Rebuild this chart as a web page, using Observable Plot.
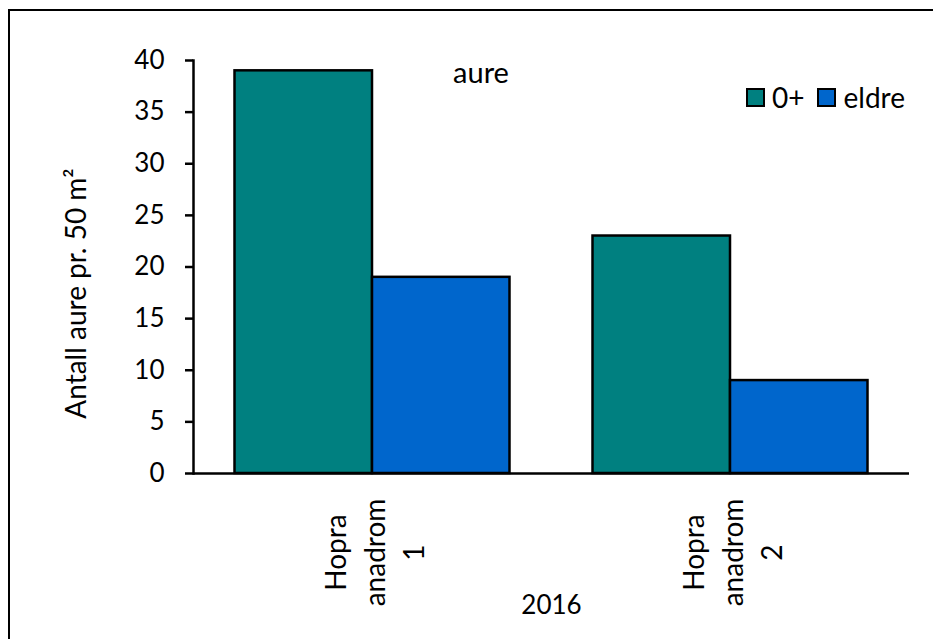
<!DOCTYPE html>
<html>
<head>
<meta charset="utf-8">
<script src="https://cdn.jsdelivr.net/npm/d3@7"></script>
<script src="https://cdn.jsdelivr.net/npm/@observablehq/plot@0.6"></script>
<style>
  body { margin: 0; background: #fff; }
  #chart { position: relative; width: 933px; height: 639px; overflow: hidden; font-family: Lato, "Open Sans", sans-serif; color: #000; }
  #chart .frame-border { position: absolute; left: 8px; top: 9px; width: 1200px; height: 1200px; border-left: 2px solid #000; border-top: 2px solid #000; pointer-events: none; }
  #chart svg { position: absolute; left: 0; top: 0; }
  .legend { position: absolute; left: 746px; top: 80px; display: flex; align-items: center; font-size: 28px; line-height: 34px; }
  .legend .sw { width: 19px; height: 19px; box-sizing: border-box; border: 2.5px solid #000; margin-right: 7px; }
  .legend .item { display: flex; align-items: center; margin-right: 13px; }
  .legend .item:last-child { margin-right: 0; }
</style>
</head>
<body>
<div id="chart"><div class="frame-border"></div></div>
<script>
// Sampling sites (x categories) and counts per age class
const sites = ["Hopra\nanadrom\n1", "Hopra\nanadrom\n2"];
const seriesNames = ["0+", "eldre"];
const youngCounts = [39, 23];   // 0+
const olderCounts = [19, 9];    // eldre
const seriesColors = ["#008080", "#0066CC"];
const yTicks = [0, 5, 10, 15, 20, 25, 30, 35, 40];
const yearLabel = "2016";
const chartTitle = "aure";
const yLabel = "Antall aure pr. 50 m²";

const young = sites.map((site, i) => ({site, series: seriesNames[0], n: youngCounts[i]}));
const older = sites.map((site, i) => ({site, series: seriesNames[1], n: olderCounts[i]}));

// Downward ticks at the category boundaries of the x axis
function boundaryTicks(index, scales, values, dims) {
  const x = scales.x;
  let bw = typeof x.bandwidth === "function" ? x.bandwidth()
         : (scales.scales && scales.scales.x && scales.scales.x.bandwidth);
  const inner = dims.width - dims.marginLeft - dims.marginRight;
  if (!(bw > 0)) bw = inner / sites.length;
  const edges = Array.from(new Set(sites.flatMap(s => [x(s), x(s) + bw]).map(v => Math.round(v * 10) / 10)));
  const y0 = dims.height - dims.marginBottom;
  const g = d3.create("svg:g");
  g.selectAll("line").data(edges).join("line")
    .attr("x1", d => d).attr("x2", d => d)
    .attr("y1", y0).attr("y2", y0 + 8)
    .attr("stroke", "#000").attr("stroke-width", 2.5);
  return g.node();
}

const barStyle = {x: "site", y: "n", stroke: "#000", strokeWidth: 2.5};

const plot = Plot.plot({
  width: 933,
  height: 639,
  marginLeft: 193,
  marginRight: 24,
  marginTop: 60,
  marginBottom: 166,
  style: {fontFamily: "Lato, 'Open Sans', sans-serif", fontSize: "27px", color: "#000", background: "transparent", overflow: "visible"},
  x: {domain: sites, padding: 0, round: false, axis: null},
  y: {domain: [0, 40], axis: null},
  marks: [
    Plot.barY(young, {...barStyle, fill: seriesColors[0], insetLeft: 41.5, insetRight: 179}),
    Plot.barY(older, {...barStyle, fill: seriesColors[1], insetLeft: 179, insetRight: 41.5}),
    Plot.axisY({ticks: yTicks, tickSize: 8, tickPadding: 21, fontSize: 26, strokeWidth: 2.5, label: null}),
    Plot.frame({anchor: "left", strokeWidth: 2.5}),
    Plot.ruleY([0], {strokeWidth: 2.5}),
    Plot.tickX([0], {render: boundaryTicks}),
    Plot.text(sites, {x: d => d, text: d => d, frameAnchor: "bottom", dy: 79, rotate: -90,
      textAnchor: "middle", lineAnchor: "middle", lineHeight: 1.39, fontSize: 28}),
    Plot.text([yearLabel], {frameAnchor: "bottom", dy: 140, lineAnchor: "bottom", fontSize: 26}),
    Plot.text([chartTitle], {frameAnchor: "top", dx: -70.5, dy: 22, lineAnchor: "bottom", fontSize: 29}),
    Plot.text([yLabel], {frameAnchor: "left", dx: -108, dy: 26.5, rotate: -90, textAnchor: "middle", lineAnchor: "bottom", fontSize: 28})
  ]
});

const chart = document.getElementById("chart");
chart.appendChild(plot);

// Legend drawn inside the plot area, top right
const legend = document.createElement("div");
legend.className = "legend";
seriesNames.forEach((name, i) => {
  const item = document.createElement("div");
  item.className = "item";
  const sw = document.createElement("span");
  sw.className = "sw";
  sw.style.background = seriesColors[i];
  const label = document.createElement("span");
  label.textContent = name;
  item.append(sw, label);
  legend.appendChild(item);
});
chart.appendChild(legend);
</script>
</body>
</html>
